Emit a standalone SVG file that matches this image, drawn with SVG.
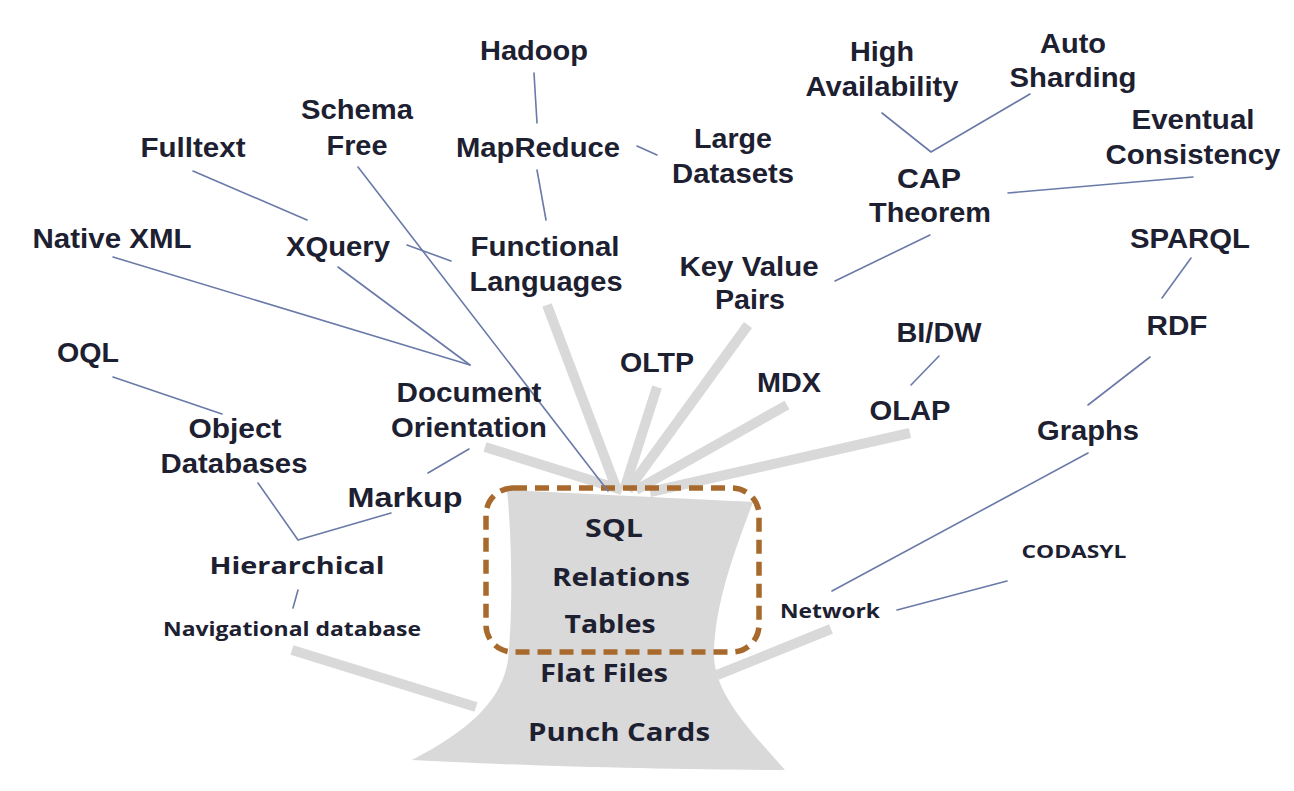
<svg xmlns="http://www.w3.org/2000/svg" width="1294" height="791" viewBox="0 0 1294 791">
<style>
  .t { font-family: "Liberation Sans", Arial, sans-serif; font-weight: bold; font-size: 27px; fill: #1d2030; text-anchor: middle; }
  .c { font-family: "Open Sans", "Noto Sans", sans-serif; font-weight: bold; fill: #1d2030; text-anchor: middle; }
  .br { stroke: #d9d9d9; stroke-width: 10; stroke-linecap: butt; fill: none; }
  .ln { stroke: #6a7aa8; stroke-width: 1.6; fill: none; stroke-linecap: round; stroke-linejoin: round; }
</style>
<rect x="0" y="0" width="1294" height="791" fill="#ffffff"/>
<g id="tree">
  <path id="trunk" d="M507,490 C512,540 513,610 508,660 C502,700 470,730 412,760 C520,766 680,770 785,770 C745,725 712,690 714,650 C716,600 735,550 753,502 C690,499 570,493 507,490 Z" fill="#d9d9d9"/>
  <g id="branches">
    <line class="br" x1="485" y1="447" x2="622" y2="490"/>
    <line class="br" x1="547" y1="305" x2="617" y2="490"/>
    <line class="br" x1="657" y1="387" x2="624" y2="490"/>
    <line class="br" x1="748" y1="325" x2="628" y2="490"/>
    <line class="br" x1="787" y1="405" x2="636" y2="490"/>
    <line class="br" x1="910" y1="433" x2="650" y2="492"/>
    <line class="br" x1="292" y1="650" x2="476" y2="707"/>
    <line class="br" x1="831" y1="629" x2="717" y2="675"/>
  </g>
</g>
<rect id="highlight" x="486" y="488" width="273" height="164" rx="27" ry="27" fill="none" stroke="#a86a2c" stroke-width="5.5" stroke-dasharray="14 8"/>
<g id="connectors">
  <line class="ln" x1="534" y1="73" x2="537" y2="123"/>
  <line class="ln" x1="537" y1="170" x2="546" y2="220"/>
  <line class="ln" x1="637" y1="146" x2="657" y2="155"/>
  <line class="ln" x1="358" y1="167" x2="608" y2="491"/>
  <line class="ln" x1="193" y1="171" x2="307" y2="220"/>
  <line class="ln" x1="407" y1="245" x2="451" y2="261"/>
  <line class="ln" x1="113" y1="257" x2="470" y2="365"/>
  <line class="ln" x1="338" y1="267" x2="470" y2="365"/>
  <line class="ln" x1="113" y1="377" x2="222" y2="414"/>
  <polyline class="ln" points="258,483 298,540 391,513"/>
  <line class="ln" x1="469" y1="449" x2="428" y2="473"/>
  <line class="ln" x1="298" y1="590" x2="293" y2="608"/>
  <polyline class="ln" points="882,113 931,152 1030,94"/>
  <line class="ln" x1="1008" y1="193" x2="1193" y2="177"/>
  <line class="ln" x1="930" y1="235" x2="835" y2="281"/>
  <line class="ln" x1="1191" y1="258" x2="1162" y2="298"/>
  <line class="ln" x1="1150" y1="357" x2="1088" y2="405"/>
  <line class="ln" x1="1088" y1="453" x2="832" y2="591"/>
  <line class="ln" x1="897" y1="610" x2="1007" y2="581"/>
  <line class="ln" x1="911" y1="385" x2="939" y2="356"/>
</g>
<g id="n-hadoop"><text class="t" x="534" y="60" textLength="108" lengthAdjust="spacingAndGlyphs">Hadoop</text></g>
<g id="n-schemafree"><text class="t" x="357" y="119" textLength="112" lengthAdjust="spacingAndGlyphs">Schema</text><text class="t" x="357" y="155" textLength="61" lengthAdjust="spacingAndGlyphs">Free</text></g>
<g id="n-mapreduce"><text class="t" x="538" y="157" textLength="164" lengthAdjust="spacingAndGlyphs">MapReduce</text></g>
<g id="n-largedatasets"><text class="t" x="733" y="148" textLength="78" lengthAdjust="spacingAndGlyphs">Large</text><text class="t" x="733" y="183" textLength="122" lengthAdjust="spacingAndGlyphs">Datasets</text></g>
<g id="n-fulltext"><text class="t" x="193" y="157" textLength="105" lengthAdjust="spacingAndGlyphs">Fulltext</text></g>
<g id="n-highavailability"><text class="t" x="882" y="61" textLength="64" lengthAdjust="spacingAndGlyphs">High</text><text class="t" x="882" y="96" textLength="153" lengthAdjust="spacingAndGlyphs">Availability</text></g>
<g id="n-autosharding"><text class="t" x="1073" y="53" textLength="66" lengthAdjust="spacingAndGlyphs">Auto</text><text class="t" x="1073" y="87" textLength="127" lengthAdjust="spacingAndGlyphs">Sharding</text></g>
<g id="n-eventual"><text class="t" x="1193" y="129" textLength="123" lengthAdjust="spacingAndGlyphs">Eventual</text><text class="t" x="1193" y="164" textLength="175" lengthAdjust="spacingAndGlyphs">Consistency</text></g>
<g id="n-cap"><text class="t" x="929" y="188" textLength="64" lengthAdjust="spacingAndGlyphs">CAP</text><text class="t" x="930" y="222" textLength="122" lengthAdjust="spacingAndGlyphs">Theorem</text></g>
<g id="n-nativexml"><text class="t" x="112" y="248" textLength="159" lengthAdjust="spacingAndGlyphs">Native XML</text></g>
<g id="n-xquery"><text class="t" x="338" y="256" textLength="104" lengthAdjust="spacingAndGlyphs">XQuery</text></g>
<g id="n-functional"><text class="t" x="545" y="256" textLength="149" lengthAdjust="spacingAndGlyphs">Functional</text><text class="t" x="546" y="291" textLength="153" lengthAdjust="spacingAndGlyphs">Languages</text></g>
<g id="n-keyvalue"><text class="t" x="749" y="276" textLength="139" lengthAdjust="spacingAndGlyphs">Key Value</text><text class="t" x="750" y="309" textLength="70" lengthAdjust="spacingAndGlyphs">Pairs</text></g>
<g id="n-sparql"><text class="t" x="1190" y="248" textLength="120" lengthAdjust="spacingAndGlyphs">SPARQL</text></g>
<g id="n-rdf"><text class="t" x="1177" y="335" textLength="61" lengthAdjust="spacingAndGlyphs">RDF</text></g>
<g id="n-oql"><text class="t" x="88" y="362" textLength="62" lengthAdjust="spacingAndGlyphs">OQL</text></g>
<g id="n-oltp"><text class="t" x="657" y="372" textLength="74" lengthAdjust="spacingAndGlyphs">OLTP</text></g>
<g id="n-bidw"><text class="t" x="939" y="342" textLength="85" lengthAdjust="spacingAndGlyphs">BI/DW</text></g>
<g id="n-mdx"><text class="t" x="789" y="392" textLength="64" lengthAdjust="spacingAndGlyphs">MDX</text></g>
<g id="n-olap"><text class="t" x="910" y="420" textLength="81" lengthAdjust="spacingAndGlyphs">OLAP</text></g>
<g id="n-document"><text class="t" x="469" y="402" textLength="145" lengthAdjust="spacingAndGlyphs">Document</text><text class="t" x="469" y="437" textLength="156" lengthAdjust="spacingAndGlyphs">Orientation</text></g>
<g id="n-graphs"><text class="t" x="1088" y="440" textLength="102" lengthAdjust="spacingAndGlyphs">Graphs</text></g>
<g id="n-object"><text class="t" x="235" y="438" textLength="93" lengthAdjust="spacingAndGlyphs">Object</text><text class="t" x="234" y="473" textLength="147" lengthAdjust="spacingAndGlyphs">Databases</text></g>
<g id="n-markup"><text class="t" x="405" y="507" textLength="115" lengthAdjust="spacingAndGlyphs">Markup</text></g>
<g id="n-hierarchical"><text class="c" x="297" y="574" font-size="24" textLength="175" lengthAdjust="spacingAndGlyphs">Hierarchical</text></g>
<g id="n-navigational"><text class="c" x="292" y="636" font-size="19" textLength="258" lengthAdjust="spacingAndGlyphs">Navigational database</text></g>
<g id="n-codasyl"><text class="c" x="1074" y="558" font-size="17" textLength="105" lengthAdjust="spacingAndGlyphs">CODASYL</text></g>
<g id="n-network"><text class="c" x="830" y="618" font-size="19" textLength="100" lengthAdjust="spacingAndGlyphs">Network</text></g>
<g id="n-sql"><text class="c" x="614" y="537" font-size="25" textLength="58" lengthAdjust="spacingAndGlyphs">SQL</text></g>
<g id="n-relations"><text class="c" x="621" y="586" font-size="25" textLength="138" lengthAdjust="spacingAndGlyphs">Relations</text></g>
<g id="n-tables"><text class="c" x="610" y="633" font-size="25" textLength="91" lengthAdjust="spacingAndGlyphs">Tables</text></g>
<g id="n-flatfiles"><text class="c" x="604" y="682" font-size="25" textLength="128" lengthAdjust="spacingAndGlyphs">Flat Files</text></g>
<g id="n-punchcards"><text class="c" x="619" y="741" font-size="25" textLength="182" lengthAdjust="spacingAndGlyphs">Punch Cards</text></g>
</svg>
